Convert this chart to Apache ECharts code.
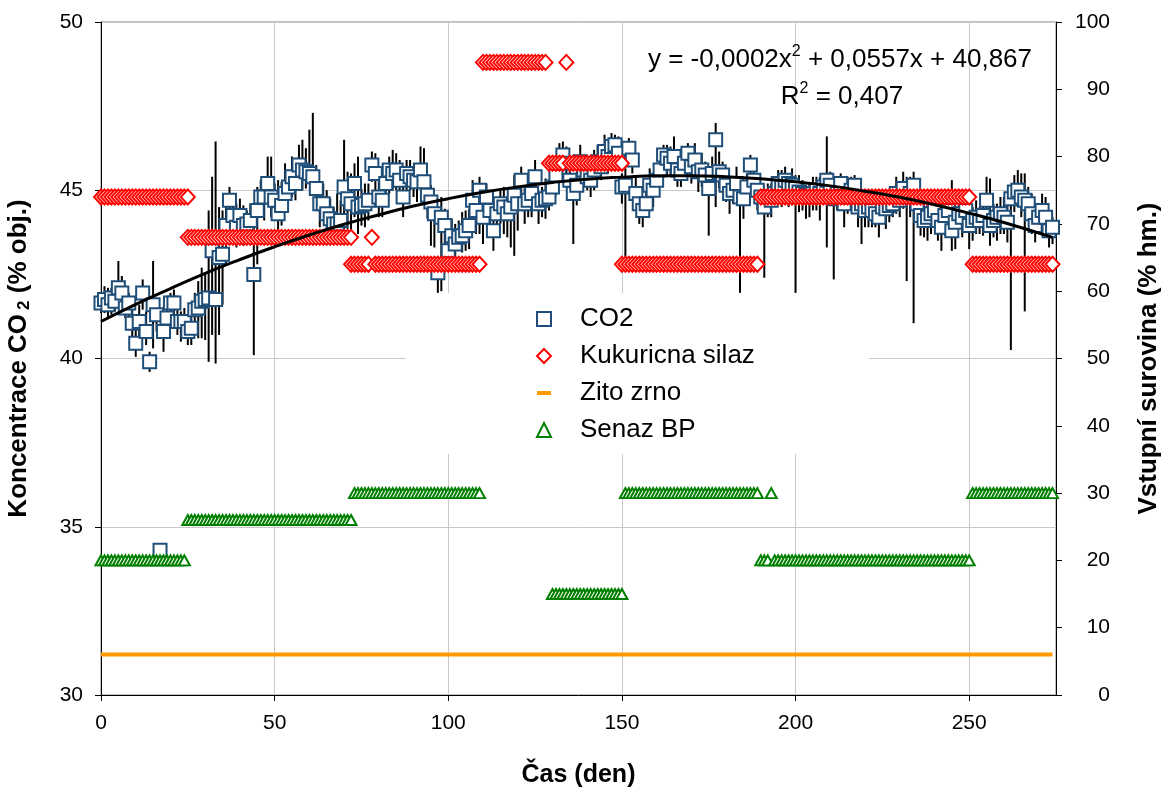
<!DOCTYPE html>
<html><head><meta charset="utf-8">
<script src="https://cdn.jsdelivr.net/npm/echarts@6/dist/echarts.min.js"></script>
<style>html,body{margin:0;padding:0;background:#fff}#c{width:1168px;height:796px}</style>
</head><body><div id="c"></div>
<script>
// CO2 concentration per day (day = index 0..274), % obj.
const co2 = [
41.65,41.75,41.6,41.8,41.7,42.1,41.95,41.5,41.65,41.05,
40.45,41.1,41.95,40.8,39.9,41.6,41.3,34.3,40.8,41.2,
41.65,41.65,41.1,41.1,41.1,40.8,40.9,41.45,41.5,41.7,
41.75,41.8,43.2,41.75,43.0,43.1,43.95,44.7,44.25,43.9,
44.25,43.95,44.0,44.1,42.5,44.4,44.8,44.8,45.2,44.8,
44.7,44.3,44.55,44.9,45.1,45.4,45.2,45.75,45.6,45.55,
45.5,45.4,45.05,44.6,44.6,44.3,44.15,44.0,44.0,44.1,
45.1,44.75,44.6,45.2,44.5,44.55,44.6,44.7,45.75,45.5,
44.8,44.7,45.2,45.6,45.5,45.6,45.3,44.8,45.5,45.4,
45.3,45.25,45.6,45.25,44.85,44.65,44.3,42.55,44.2,43.95,
43.2,43.65,43.4,43.6,43.65,43.8,43.95,44.7,44.4,45.0,
44.2,44.8,44.4,43.8,44.3,44.6,44.5,44.3,44.5,44.85,
44.6,45.3,44.6,44.7,44.9,45.4,44.6,44.7,44.75,44.8,
45.1,45.45,45.8,46.05,45.8,45.3,44.9,45.15,45.85,45.6,
45.4,45.3,45.6,45.85,45.7,46.15,46.0,46.3,46.35,46.1,
45.1,45.15,46.25,45.9,44.9,44.6,44.4,44.6,45.15,45.0,
45.3,45.6,46.05,45.95,45.8,46.0,45.6,45.5,45.8,46.1,
45.7,45.9,45.55,45.6,45.45,45.05,45.5,46.5,45.55,45.45,
45.15,44.9,45.0,45.2,44.8,44.75,45.1,45.75,45.3,45.0,
44.8,44.5,44.8,44.7,44.9,45.2,45.1,45.3,45.2,45.15,
45.05,44.95,44.9,44.85,44.8,44.9,45.0,44.9,45.1,45.3,
45.15,44.75,44.9,45.2,44.6,44.8,45.0,45.15,44.5,44.6,
44.4,44.5,44.4,44.3,44.2,44.5,44.45,44.55,44.6,44.9,
44.7,45.05,44.8,44.9,45.15,44.6,44.25,44.1,44.2,44.3,
44.4,44.1,43.9,44.25,44.4,43.8,44.05,44.3,44.2,44.4,
43.95,44.1,44.2,44.1,44.25,44.7,43.95,44.1,44.2,44.3,
44.2,44.05,44.75,44.95,45.0,44.8,44.7,44.6,44.3,43.95,
44.2,44.4,44.2,43.8,43.9
];
// error bar extents above / below each CO2 value
const co2ErrUp = [
0.3,0.4,0.5,0.3,0.6,0.8,0.5,0.4,0.3,0.5,
0.4,0.5,0.4,0.6,0.3,1.3,0.5,0.2,0.5,0.4,
0.3,0.4,0.5,0.3,0.4,0.5,0.6,0.5,0.8,1.0,
0.8,2.6,2.2,4.7,1.5,1.3,0.9,0.4,0.6,0.7,
0.5,0.6,0.4,0.5,1.6,0.7,0.5,0.6,0.8,1.2,
0.5,1.0,0.7,0.9,0.4,0.6,0.5,0.6,0.9,0.7,
1.3,1.9,0.7,0.5,0.6,0.7,0.6,0.5,0.9,0.6,
1.4,0.8,0.9,0.6,1.5,0.5,0.6,0.5,0.4,0.6,
0.5,0.7,0.6,0.4,0.7,0.5,0.6,0.5,0.4,0.5,
0.4,0.5,0.7,1.0,0.4,0.5,0.4,0.5,0.6,0.5,
0.6,0.5,0.6,0.5,0.7,0.6,0.5,0.6,0.5,0.4,
0.5,0.4,0.5,0.6,0.5,0.4,0.6,0.5,0.4,0.6,
0.5,0.4,0.6,0.5,0.4,0.5,0.3,0.4,0.6,0.5,
0.4,0.5,0.6,0.4,0.5,0.4,0.5,0.4,0.5,0.4,
0.5,0.4,0.6,0.5,0.4,0.5,0.4,0.4,0.3,0.5,
0.4,0.5,0.3,0.4,0.5,0.4,0.3,0.4,0.5,0.4,
0.4,0.5,0.3,0.4,0.5,0.6,0.5,0.4,0.5,0.3,
0.4,0.5,0.4,0.5,0.4,0.6,0.5,0.5,0.6,0.4,
0.4,0.5,0.4,0.5,0.4,0.5,0.4,0.3,0.4,0.5,
0.4,0.5,0.4,0.5,0.3,0.4,0.5,0.4,0.3,0.5,
0.4,0.5,0.4,0.3,0.4,0.5,0.4,0.5,0.4,1.3,
0.4,0.5,0.4,0.3,0.5,0.6,0.4,0.3,0.5,0.4,
0.4,0.5,0.4,0.3,0.5,0.4,0.5,0.4,0.3,0.5,
0.4,0.5,0.6,0.5,0.4,0.3,0.4,0.5,0.4,0.5,
0.4,0.5,0.6,0.5,0.4,1.5,0.5,0.4,0.5,0.4,
0.5,0.4,0.5,0.4,0.5,0.7,1.4,0.5,0.4,0.5,
0.6,0.5,0.4,0.5,0.6,0.7,0.8,0.5,0.6,0.5,
0.4,0.5,0.6,0.5,0.3
];
const co2ErrDown = [
0.3,0.4,0.4,0.5,0.3,0.4,0.5,0.3,0.4,0.5,
0.4,0.6,0.5,0.4,0.3,1.3,0.5,0.2,0.6,0.5,
0.4,0.5,0.4,0.6,0.5,0.4,0.5,0.7,0.9,1.1,
1.2,1.9,2.5,1.9,2.3,1.5,1.2,0.6,0.8,0.6,
0.5,0.6,0.4,0.5,2.4,1.6,0.6,0.7,0.5,0.6,
0.6,0.5,0.6,0.5,0.4,0.6,0.5,0.4,0.6,0.5,
0.3,0.5,0.6,0.7,0.5,0.6,0.7,0.5,0.4,0.6,
1.4,0.9,1.0,1.0,0.8,0.6,0.7,0.6,0.5,0.7,
0.6,0.5,0.6,0.7,0.5,0.6,0.5,0.6,0.5,0.4,
0.5,0.6,0.5,0.6,0.7,1.3,1.0,0.6,2.2,0.7,
0.5,0.6,0.5,0.4,0.5,0.6,0.7,0.9,0.7,1.3,
0.8,0.6,0.5,0.6,0.7,0.6,0.8,0.7,1.2,1.8,
0.8,0.7,0.6,0.5,0.7,0.5,0.6,0.5,0.6,0.4,
0.5,0.6,0.5,0.4,0.6,0.5,1.5,0.6,0.6,0.5,
0.4,0.5,0.6,0.5,0.4,0.6,0.5,0.4,0.5,0.4,
0.5,2.4,0.5,0.4,0.5,0.6,0.5,0.4,0.6,0.5,
0.4,0.5,0.6,0.5,0.4,0.6,0.5,0.4,0.5,0.4,
0.5,0.4,0.6,0.5,0.4,1.4,0.5,2.0,0.5,0.4,
0.5,0.6,0.4,0.5,2.85,0.6,0.5,0.4,0.5,0.6,
0.5,2.1,0.6,0.5,0.4,0.5,0.6,0.5,0.7,0.6,
3.1,0.6,0.5,0.7,0.6,0.5,0.6,0.8,0.5,2.0,
0.6,2.4,0.5,0.6,0.7,0.5,0.6,0.5,0.6,1.2,
0.5,0.6,0.5,0.4,0.6,0.5,0.6,0.5,0.4,0.6,
0.5,0.6,2.5,0.7,4.1,0.5,0.6,0.5,0.7,0.6,
0.5,0.6,0.7,0.6,0.5,0.6,0.8,0.4,0.6,0.5,
0.7,0.6,0.5,0.4,0.6,0.5,0.6,0.5,0.7,0.6,
0.5,0.6,4.5,0.6,0.5,0.6,3.3,0.5,0.6,0.5,
0.4,0.5,0.6,0.5,0.5
];
// trend line
const trendDays   = [0,10,20,30,40,50,60,70,80,90,100,110,120,130,140,150,160,170,180,190,200,210,220,230,240,250,260,274];
const trendValues = [41.10,41.61,42.08,42.53,42.94,43.32,43.67,43.99,44.27,44.53,44.75,44.94,45.10,45.23,45.33,45.39,45.43,45.43,45.40,45.34,45.25,45.13,44.97,44.79,44.57,44.32,44.04,43.60];
// feedstock levels: [fromDay, toDay, % hm.]
const kukuricnaSegments = [[0,25,74],[25,72,68],[78,78,68],[72,77,64],[79,109,64],[110,128,94],[134,134,94],[129,133,79],[135,150,79],[150,189,64],[190,250,74],[251,274,64]];
const zitoSegments = [[0,274,6]];
const senazSegments = [[0,24,20],[25,72,26],[73,109,30],[130,150,15],[151,189,30],[193,193,30],[190,192,20],[194,250,20],[251,274,30]];
const xTickStep = 50, xMax = 275;
const equationText = 'y = -0,0002x{sup|2} + 0,0557x + 40,867';
const r2Text = 'R{sup|2} = 0,407';

function expand(segs){const out=[];segs.forEach(s=>{for(let d=s[0];d<=s[1];d++)out.push([d,s[2]]);});return out;}

const chart = echarts.init(document.getElementById('c'));
const FONT = 'Liberation Sans, Arial, sans-serif';
const axisLineStyle = {lineStyle:{color:'#000',width:1}};
chart.setOption({
  animation:false,
  backgroundColor:'#fff',
  textStyle:{fontFamily:FONT,color:'#000'},
  grid:{left:101,right:112,top:22,bottom:101,containLabel:false,outerBoundsMode:'none',
    show:true,borderColor:'#808080',borderWidth:1,backgroundColor:'transparent'},
  xAxis:{type:'value',min:0,max:xMax,interval:xTickStep,
    name:'Čas (den)',nameLocation:'middle',nameGap:68,
    nameTextStyle:{fontFamily:FONT,fontSize:25,fontWeight:'bold',color:'#000'},
    axisLine:{show:true,onZero:false,...axisLineStyle},
    axisTick:{show:true,inside:false,length:6,lineStyle:{color:'#000'}},
    axisLabel:{fontFamily:FONT,fontSize:21,color:'#000',margin:18,showMaxLabel:false},
    splitLine:{show:true,lineStyle:{color:'#c8c8c8',width:1}}},
  yAxis:[
    {type:'value',min:30,max:50,interval:5,position:'left',
      name:'Koncentrace CO{sub|2} (% obj.)',nameLocation:'middle',nameGap:68,nameRotate:90,
      nameTextStyle:{fontFamily:FONT,fontSize:26,fontWeight:'bold',color:'#000',
        rich:{sub:{fontFamily:FONT,fontSize:17,fontWeight:'bold',color:'#000',verticalAlign:'bottom',padding:[12,0,0,4]}}},
      axisLine:{show:true,...axisLineStyle},
      axisTick:{show:true,length:6,lineStyle:{color:'#000'}},
      axisLabel:{fontFamily:FONT,fontSize:21,color:'#000',margin:18},
      splitLine:{show:true,lineStyle:{color:'#c8c8c8',width:1}}},
    {type:'value',min:0,max:100,interval:10,position:'right',
      name:'Vstupní surovina (% hm.)',nameLocation:'middle',nameGap:80,nameRotate:90,
      nameTextStyle:{fontFamily:FONT,fontSize:26,fontWeight:'bold',color:'#000'},
      axisLine:{show:true,...axisLineStyle},
      axisTick:{show:true,length:6,lineStyle:{color:'#000'}},
      axisLabel:{fontFamily:FONT,fontSize:21,color:'#000',margin:54,align:'right'},
      splitLine:{show:false}}
  ],
  legend:{orient:'vertical',left:406,top:293,
    padding:[13,114,11,130],itemGap:11,itemWidth:14,itemHeight:14,
    backgroundColor:'#fff',borderWidth:0,
    textStyle:{fontFamily:FONT,fontSize:26,color:'#000',lineHeight:26,padding:[0,0,0,24]},
    data:['CO2','Kukuricna silaz',{name:'Zito zrno',icon:'path://M0,0 L14,0 L14,4 L0,4 Z'},'Senaz BP']},
  series:[
    {name:'errorbars',type:'custom',xAxisIndex:0,yAxisIndex:0,z:1,silent:true,
      data:co2.map((v,i)=>[i,v-co2ErrDown[i],v+co2ErrUp[i]]),
      encode:{x:0,y:[1,2]},
      renderItem:function(params,api){
        const p1=api.coord([api.value(0),api.value(1)]);
        const p2=api.coord([api.value(0),api.value(2)]);
        return {type:'line',shape:{x1:p1[0],y1:p1[1],x2:p2[0],y2:p2[1]},style:{stroke:'#000',lineWidth:2}};
      }},
    {name:'CO2',type:'scatter',yAxisIndex:0,z:2,symbol:'rect',symbolSize:13,
      itemStyle:{color:'#fff',borderColor:'#1F4E79',borderWidth:2,opacity:1},
      data:co2.map((v,i)=>[i,v])},
    {name:'Kukuricna silaz',type:'scatter',yAxisIndex:1,z:3,symbol:'diamond',symbolSize:[14,15],
      itemStyle:{color:'#fff',borderColor:'#FF0000',borderWidth:2,opacity:1},
      data:expand(kukuricnaSegments)},
    {name:'Zito zrno',type:'line',yAxisIndex:1,z:3,symbol:'none',showSymbol:false,
      lineStyle:{color:'#FF9900',width:4},itemStyle:{color:'#FF9900'},
      data:expand(zitoSegments)},
    {name:'Senaz BP',type:'scatter',yAxisIndex:1,z:3,symbol:'triangle',symbolSize:[11,10],
      itemStyle:{color:'#fff',borderColor:'#008000',borderWidth:2,opacity:1},
      data:expand(senazSegments)},
    {name:'trend',type:'line',yAxisIndex:0,z:4,smooth:true,symbol:'none',showSymbol:false,
      lineStyle:{color:'#000',width:3},
      data:trendDays.map((d,i)=>[d,trendValues[i]])}
  ],
  graphic:[
    {type:'text',id:'eq',x:840,y:60,z:100,style:{text:equationText,fontFamily:FONT,fontSize:26,fill:'#000',align:'center',verticalAlign:'middle',
      rich:{sup:{fontFamily:FONT,fontSize:16,fill:'#000',verticalAlign:'bottom',padding:[0,0,16,0]}}}},
    {type:'text',id:'r2',x:842,y:97,z:100,style:{text:r2Text,fontFamily:FONT,fontSize:26,fill:'#000',align:'center',verticalAlign:'middle',
      rich:{sup:{fontFamily:FONT,fontSize:16,fill:'#000',verticalAlign:'bottom',padding:[0,0,16,0]}}}}
  ]
});
</script></body></html>
